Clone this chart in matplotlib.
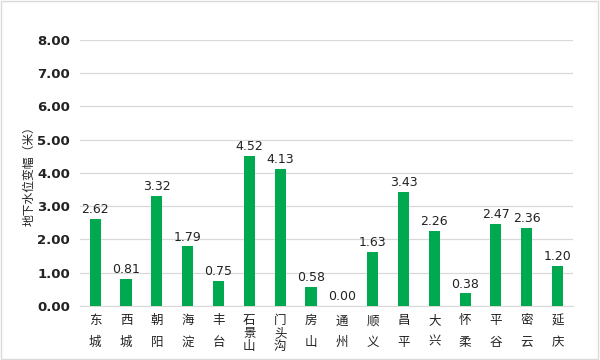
import matplotlib.pyplot as plt
from matplotlib.patches import Rectangle

districts = ["东城", "西城", "朝阳", "海淀", "丰台", "石景山", "门头沟", "房山", "通州",
             "顺义", "昌平", "大兴", "怀柔", "平谷", "密云", "延庆"]
change = [2.62, 0.81, 3.32, 1.79, 0.75, 4.52, 4.13, 0.58, 0.00,
          1.63, 3.43, 2.26, 0.38, 2.47, 2.36, 1.20]
yticks = [0, 1, 2, 3, 4, 5, 6, 7, 8]

plt.rcParams["font.family"] = ["DejaVu Sans", "Noto Sans CJK SC"]

fig = plt.figure(figsize=(6, 3.6), dpi=100)
ax = fig.add_axes([0.133, 0.15, 0.822, 0.739])

x = list(range(len(districts)))
ax.bar(x, change, width=0.36, color="#00a84f", zorder=3)

for xi, v in zip(x, change):
    ax.text(xi, v + 0.08, f"{v:.2f}", ha="center", va="bottom", fontsize=9, color="#222222")

ax.set_xlim(-0.5, len(districts) - 0.5)
ax.set_ylim(0, 8)
ax.set_yticks(yticks)
ax.set_yticklabels([f"{t:.2f}" for t in yticks], fontsize=9.5, fontweight="bold", color="#222222")
ax.grid(axis="y", color="#d9d9d9", linewidth=0.9, zorder=0)
for s in ["top", "right", "left"]:
    ax.spines[s].set_visible(False)
ax.spines["bottom"].set_color("#d9d9d9")
ax.tick_params(axis="both", length=0)
ax.tick_params(axis="y", pad=7)
ax.tick_params(axis="x", pad=6)

ax.set_xticks(x)
ax.set_xticklabels(["\n".join(d) for d in districts], family=["Noto Sans CJK SC"],
                   fontsize=9, color="#222222")
for lab, d in zip(ax.get_xticklabels(), districts):
    lab.set_linespacing(1.85 if len(d) == 2 else 1.0)

ax.set_ylabel("地下水位变幅（米）", family=["Noto Sans CJK SC"], fontsize=8.5,
              color="#222222", labelpad=1)

fig.patches.append(Rectangle((0.002, 0.003), 0.995, 0.993, transform=fig.transFigure,
                             fill=False, edgecolor="#d9d9d9", linewidth=1))

fig.savefig("out.png", dpi=100)
